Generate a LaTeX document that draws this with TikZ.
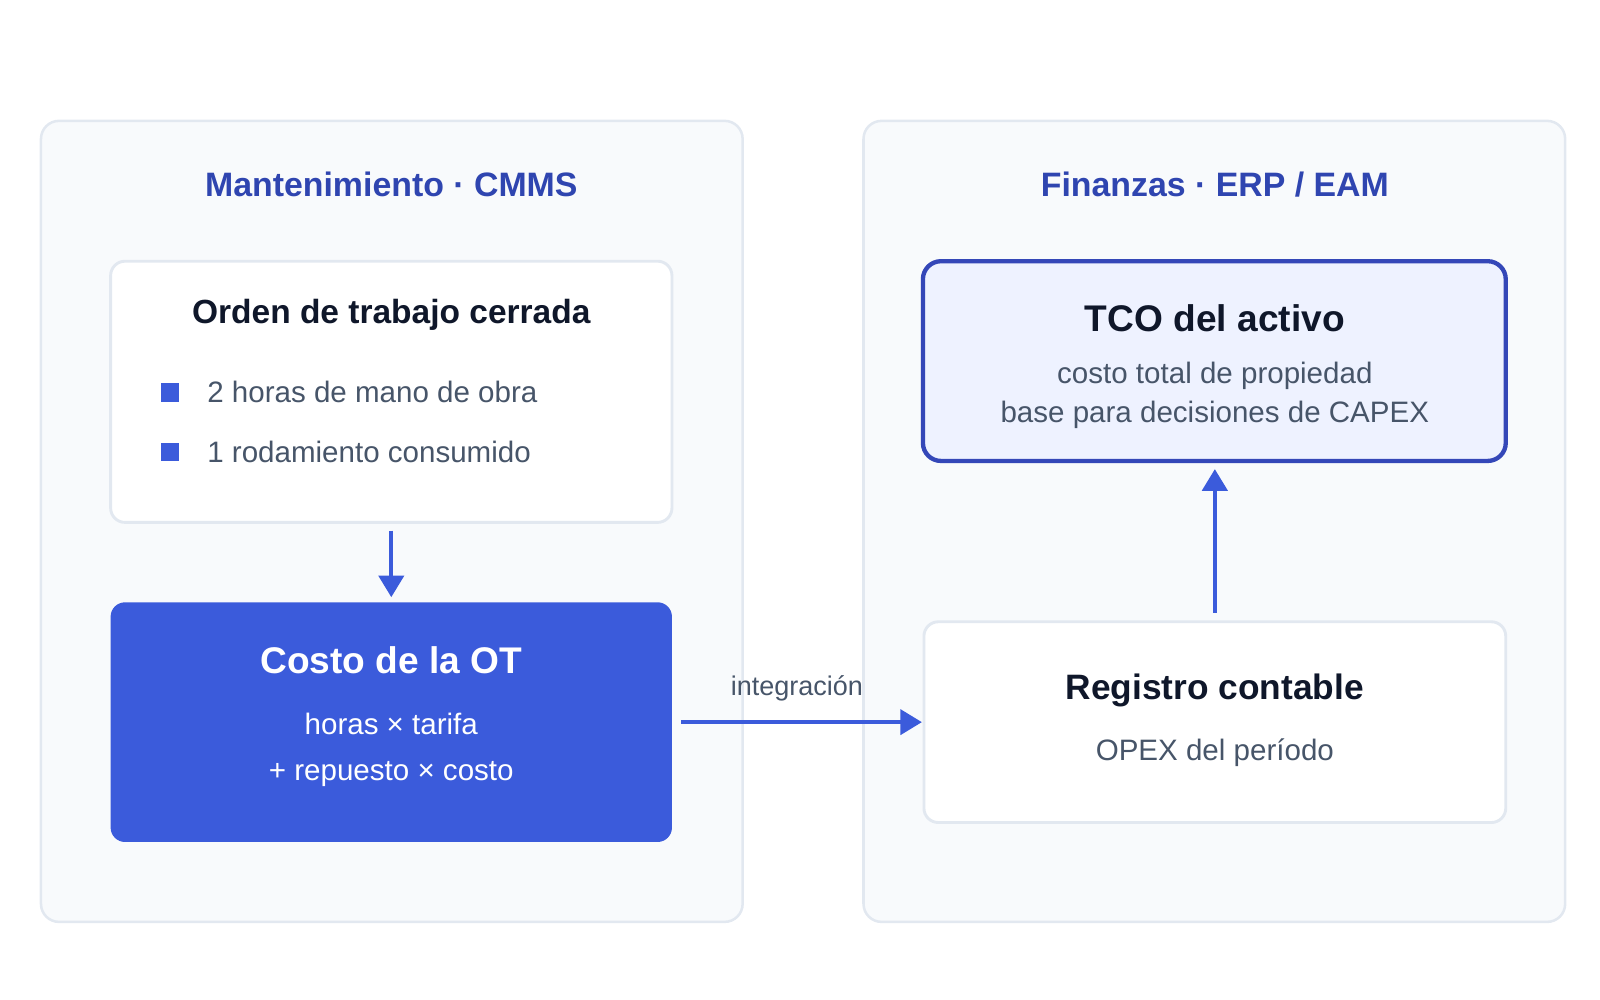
\documentclass[tikz,border=0pt]{standalone}
\usepackage{fontspec}
\setmainfont{Liberation Sans}
\usetikzlibrary{arrows.meta}
\definecolor{pfill}{HTML}{F8FAFC}
\definecolor{pline}{HTML}{E2E8F0}
\definecolor{ttl}{HTML}{2F45B0}
\definecolor{dark}{HTML}{0F172A}
\definecolor{gray}{HTML}{475569}
\definecolor{blue}{HTML}{3B5BDB}
\definecolor{tcofill}{HTML}{EEF2FF}
\definecolor{tcoline}{HTML}{3447B8}
\newcommand{\fs}[1]{\fontsize{#1}{#1}\selectfont}
\begin{document}
\begin{tikzpicture}[x=0.01cm,y=-0.01cm,
 panel/.style={draw=pline,line width=0.7pt,fill=pfill,rounded corners=5pt},
 card/.style={draw=pline,line width=0.8pt,fill=white,rounded corners=4pt},
 arr/.style={draw=blue,line width=1pt,-{Triangle[length=6pt,width=7pt]}},
 ptitle/.style={text=ttl,font=\fs{9.4pt}\bfseries},
 btitle/.style={text=dark,font=\fs{9.3pt}\bfseries},
 body/.style={text=gray,font=\fs{8.2pt}}]
\useasboundingbox (0,0) rectangle (1562,976);
\draw[panel] (40,118) rectangle (725,900);
\draw[panel] (843,118) rectangle (1528,900);
\node[ptitle] (t1) at (382,180) {Mantenimiento · CMMS};
\node[ptitle] (t2) at (1186,180) {Finanzas · ERP / EAM};
% box 1
\draw[card] (108,255) rectangle (656,510);
\coordinate (b1s) at (382,518);
\node[btitle] (b1) at (382,307) {Orden de trabajo cerrada};
\fill[blue] (157,374) rectangle (175,392);
\fill[blue] (157,432) rectangle (175,450);
\node[body,anchor=west] (l1) at (190,383) {2 horas de mano de obra};
\node[body,anchor=west] (l2) at (190,441) {1 rodamiento consumido};
% box 2
\fill[blue,rounded corners=4pt] (108,588) rectangle (656,822);
\node[text=white,font=\fs{10.3pt}\bfseries] (b2) at (382,645) {Costo de la OT};
\node[text=white,font=\fs{8.2pt},align=center] (b2t) at (382,732) {horas × tarifa\\[4.5pt]+ repuesto × costo};
\coordinate (b2n) at (382,583);
\draw[arr] (b1s) -- (b2n);
% box 3
\draw[card] (902,607) rectangle (1470,803);
\node[text=dark,font=\fs{9.8pt}\bfseries] (b3) at (1186,674) {Registro contable};
\node[body] (b3t) at (1186,735) {OPEX del período};
\coordinate (b2e) at (665,705);
\coordinate (b3w) at (900,705);
\draw[arr] (b2e) -- (b3w);
\node[text=gray,font=\fs{7.5pt}] (lab) at (778,672) {integración};
% box 4
\draw[draw=tcoline,line width=1.2pt,fill=tcofill,rounded corners=5pt] (901,255) rectangle (1470,450);
\node[text=dark,font=\fs{10.3pt}\bfseries] (b4) at (1186,311) {TCO del activo};
\node[body,align=center] (b4t) at (1186,386) {costo total de propiedad\\[2.5pt]base para decisiones de CAPEX};
\coordinate (b3n) at (1186,598);
\coordinate (b4s) at (1186,458);
\draw[arr] (b3n) -- (b4s);
\end{tikzpicture}
\end{document}
